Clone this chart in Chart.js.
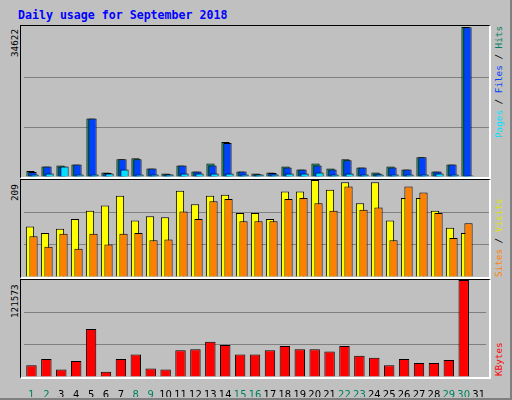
<!DOCTYPE html>
<html><head><meta charset="utf-8">
<script src="https://cdn.jsdelivr.net/npm/chart.js@4"></script>
<style>
body{margin:0;background:#fff}
#wrap{position:relative;width:512px;height:400px;background:#c0c0c0;overflow:hidden}
.frame{position:absolute;box-sizing:border-box;border-top:1px solid #000;border-left:1px solid #000;border-right:2px solid #fff;border-bottom:2px solid #fff;background:#c0c0c0}
canvas{position:absolute}
.t{position:absolute;font-family:"DejaVu Sans Mono",monospace;font-size:9.3px;white-space:nowrap;line-height:10px}
.rot{transform-origin:0 0;transform:rotate(-90deg)}
</style></head><body>
<div id="wrap">
<div style="position:absolute;left:0;top:0;width:510px;height:398px;border-right:2px solid #808080;border-bottom:2px solid #808080;box-sizing:content-box"></div>
<div class="t" style="left:18px;top:8px;color:#0000ff;font-weight:bold;font-size:11.6px;line-height:14px">Daily usage for September 2018</div>
<div class="frame" style="left:20px;top:25px;width:471px;height:154px"></div>
<div class="frame" style="left:20px;top:179px;width:471px;height:100px"></div>
<div class="frame" style="left:20px;top:279px;width:471px;height:100px"></div>
<div class="t rot" style="left:10px;top:57px">34622</div>
<div class="t rot" style="left:10px;top:201px">209</div>
<div class="t rot" style="left:10px;top:318px">121573</div>
<div class="t rot" style="left:494px;top:138px"><span style="color:#00e0ff">Pages</span> / <span style="color:#0040ff">Files</span> / <span style="color:#008060">Hits</span></div>
<div class="t rot" style="left:494px;top:277px"><span style="color:#ff8000">Sites</span> / <span style="color:#e0e000">Visits</span></div>
<div class="t rot" style="left:494px;top:376px;color:#ff0000">KBytes</div>
<canvas id="c1" width="465" height="150" style="left:24px;top:27px"></canvas>
<canvas id="c2" width="465" height="97" style="left:24px;top:180px"></canvas>
<canvas id="c3" width="465" height="117" style="left:24px;top:280px"></canvas>
</div>
<script>
const days=['1','2','3','4','5','6','7','8','9','10','11','12','13','14','15','16','17','18','19','20','21','22','23','24','25','26','27','28','29','30','31'];
const weekend=['1','2','8','9','15','16','22','23','29','30'];
const hits=[1413,2434,2670,2905,13500,1020,4080,4320,1960,785,2670,1256,3140,8090,1256,785,1020,2434,1727,3140,1960,4080,2200,1020,2434,1727,4550,1256,2905,34622];
const files=[1180,2434,2434,2905,13500,940,4080,4080,1960,630,2670,1256,2670,7850,1256,630,940,2200,1727,2670,1727,3850,2200,785,2200,1727,4550,1256,2905,34550];
const pages=[550,785,2434,550,550,785,1727,550,550,550,785,785,785,785,550,550,550,785,785,1020,550,785,550,550,550,550,550,785,550,320];
const visits=[109,95,104,125,143,154,175,122,131,129,186,157,175,177,138,138,125,184,184,209,188,204,159,204,122,170,170,143,106,95];
const sites=[88,65,93,61,93,70,93,95,79,81,141,125,163,168,120,120,120,168,170,159,143,195,145,150,79,195,182,138,84,116];
const kbytes=[14700,22700,9350,20000,60100,6680,22700,28050,10700,9350,33400,34700,44100,40100,28050,28050,33400,38700,34700,34700,32100,38700,26700,24000,14700,22700,17400,17400,21400,121573];
const maxHits=34622, maxVis=209, maxKB=121573;

// shift overlapping bars sideways (webalizer style)
const shiftPlugin={id:'shift',afterDatasetsUpdate(chart){
  chart.data.datasets.forEach((d,i)=>{if(!d.dx)return;
    chart.getDatasetMeta(i).data.forEach(el=>{el.x+=d.dx;});});}};
function yScale(max){return {min:0,max:max,display:true,border:{display:false},
  ticks:{display:false,count:4},afterFit:s=>{s.width=0;},
  grid:{drawTicks:false,color:c=>(c.tick&&(c.tick.value>0&&c.tick.value<max))?'#808080':'rgba(0,0,0,0)',lineWidth:1}};}
function ds(data,color,bp,dx){return {data:data,backgroundColor:color,borderColor:'#000',borderWidth:1,categoryPercentage:1,barPercentage:bp,grouped:false,dx:dx};}
const base={responsive:false,animation:false,maintainAspectRatio:false,layout:{padding:0},
  plugins:{legend:{display:false},tooltip:{enabled:false},title:{display:false}}};
const xHidden={display:false,offset:true};

new Chart(document.getElementById('c1'),{type:'bar',plugins:[shiftPlugin],data:{labels:days,datasets:[
  ds(pages,'#00e0ff',0.55,3),ds(files,'#0040ff',0.55,1),ds(hits,'#008060',0.55,-1)]},
  options:Object.assign({},base,{scales:{x:xHidden,y:yScale(maxHits)}})});
new Chart(document.getElementById('c2'),{type:'bar',plugins:[shiftPlugin],data:{labels:days,datasets:[
  ds(sites,'#ff8000',0.55,2),ds(visits,'#ffff00',0.55,-1.5)]},
  options:Object.assign({},base,{scales:{x:xHidden,y:yScale(maxVis)}})});
new Chart(document.getElementById('c3'),{type:'bar',data:{labels:days,datasets:[
  {data:kbytes,backgroundColor:'#ff0000',borderColor:'#000',borderWidth:1,categoryPercentage:1,barPercentage:0.7}]},
  options:Object.assign({},base,{scales:{
    x:{display:true,border:{display:false},grid:{display:false},afterFit:s=>{s.height=20;},
       ticks:{padding:4,maxRotation:0,autoSkip:false,font:{family:'DejaVu Sans',size:10},
       color:c=>weekend.includes(days[c.index])?'#008060':'#000'}},
    y:yScale(maxKB)}})});
</script>
</body></html>
